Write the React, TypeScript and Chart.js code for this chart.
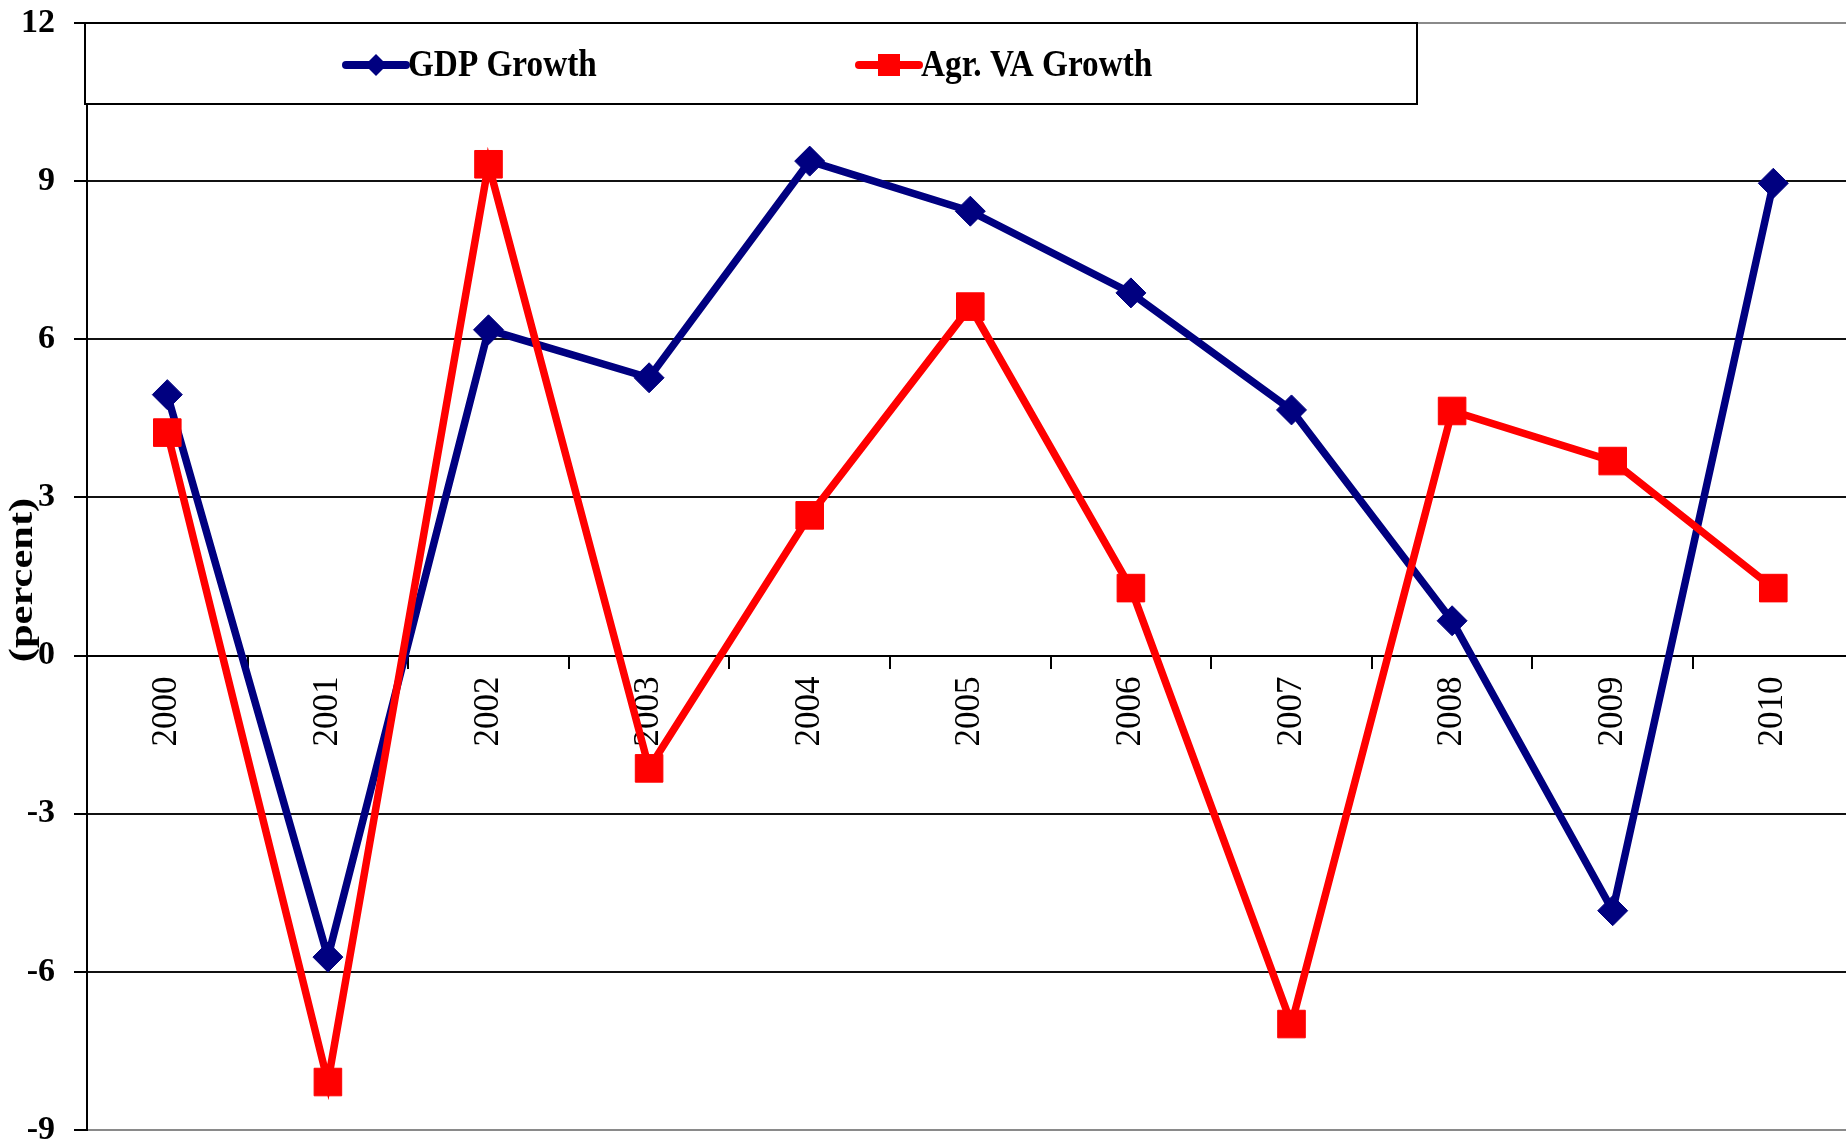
import React, { useEffect, useRef } from 'react';
import { Chart, registerables } from 'chart.js';

Chart.register(...registerables);

const years = ['2000', '2001', '2002', '2003', '2004', '2005', '2006', '2007', '2008', '2009', '2010'];
const gdpGrowth = [4.95, -5.72, 6.18, 5.27, 9.38, 8.43, 6.88, 4.66, 0.66, -4.84, 8.96];
const agrVaGrowth = [4.23, -8.09, 9.32, -2.14, 2.66, 6.62, 1.28, -6.99, 4.64, 3.69, 1.28];
const seriesLabels = ['GDP Growth', 'Agr. VA Growth'];
const yTitle = '(percent)';
const yMin = -9;
const yMax = 12;
const yStep = 3;

const W = 1900;
const H = 1170;
const FONT = '"Liberation Serif", "Times New Roman", serif';

const boxLegend = {
  id: 'boxLegend',
  afterDraw(chart: any) {
    const ctx = chart.ctx as CanvasRenderingContext2D;
    const area = chart.chartArea;
    const left = area.left - 2;
    const top = area.top;
    const right = 1417;
    const bottom = 104;
    ctx.save();
    ctx.fillStyle = '#fff';
    ctx.fillRect(left, top, right - left, bottom - top);
    ctx.strokeStyle = '#000';
    ctx.lineWidth = 2;
    ctx.strokeRect(left, top, right - left, bottom - top);
    const starts = [346, 859];
    chart.data.datasets.forEach((ds: any, i: number) => {
      const x0 = starts[i];
      const y = 65;
      ctx.strokeStyle = ds.borderColor;
      ctx.lineWidth = 8;
      ctx.lineCap = 'round';
      ctx.beginPath();
      ctx.moveTo(x0, y);
      ctx.lineTo(x0 + 60, y);
      ctx.stroke();
      ctx.fillStyle = ds.pointBackgroundColor;
      const cx = x0 + 30;
      ctx.beginPath();
      if (ds.pointStyle === 'rectRot') {
        const r = 11;
        ctx.moveTo(cx - r, y);
        ctx.lineTo(cx, y - r);
        ctx.lineTo(cx + r, y);
        ctx.lineTo(cx, y + r);
        ctx.closePath();
      } else {
        const h = 11;
        ctx.rect(cx - h, y - h, 2 * h, 2 * h);
      }
      ctx.fill();
      ctx.save();
      ctx.translate(x0 + 62, 76);
      ctx.scale(0.875, 1);
      ctx.font = `bold 38px ${FONT}`;
      ctx.fillStyle = '#000';
      ctx.textBaseline = 'alphabetic';
      ctx.textAlign = 'left';
      ctx.fillText(ds.label, 0, 0);
      ctx.restore();
    });
    ctx.restore();
  },
};

const yTitlePlugin = {
  id: 'yTitlePlugin',
  afterDraw(chart: any) {
    const ctx = chart.ctx as CanvasRenderingContext2D;
    ctx.save();
    ctx.translate(23, 580);
    ctx.rotate(-Math.PI / 2);
    ctx.scale(1.25, 1);
    ctx.font = `bold 34px ${FONT}`;
    ctx.fillStyle = '#000';
    ctx.textAlign = 'center';
    ctx.textBaseline = 'middle';
    ctx.fillText(yTitle, 0, 0);
    ctx.restore();
  },
};

export default function App() {
  const ref = useRef<HTMLCanvasElement | null>(null);

  useEffect(() => {
    if (!ref.current) return;
    const chart = new Chart(ref.current, {
      type: 'line',
      data: {
        labels: years,
        datasets: [
          {
            label: seriesLabels[0],
            data: gdpGrowth,
            borderColor: '#000080',
            backgroundColor: '#000080',
            pointBackgroundColor: '#000080',
            pointBorderColor: '#000080',
            pointStyle: 'rectRot',
            pointRadius: 15,
            pointBorderWidth: 1,
            borderWidth: 7.5,
            tension: 0,
            order: 1,
          },
          {
            label: seriesLabels[1],
            data: agrVaGrowth,
            borderColor: '#FF0000',
            backgroundColor: '#FF0000',
            pointBackgroundColor: '#FF0000',
            pointBorderColor: '#FF0000',
            pointStyle: 'rect',
            pointRadius: 19.5,
            pointBorderWidth: 1,
            borderWidth: 7.5,
            tension: 0,
            order: 0,
          },
        ],
      },
      options: {
        responsive: false,
        animation: false,
        layout: {
          padding: { left: 0, top: 23, right: W - 1853.6, bottom: H - 1130 },
        },
        plugins: {
          legend: { display: false },
          tooltip: { enabled: false },
          title: { display: false },
        },
        scales: {
          x: {
            type: 'category',
            position: { y: 0 } as any,
            offset: true,
            grid: {
              display: true,
              drawOnChartArea: false,
              drawTicks: true,
              tickLength: 12,
              offset: true,
              color: '#000',
              lineWidth: 2,
            },
            border: { display: true, color: '#000', width: 2 },
            ticks: {
              autoSkip: false,
              minRotation: 90,
              maxRotation: 90,
              padding: 9,
              color: '#000',
              font: { family: FONT, size: 35 },
            },
            afterFit: (s: any) => {
              s.paddingTop = 0;
              s.paddingBottom = 0;
            },
          },
          y: {
            min: yMin,
            max: yMax,
            ticks: {
              stepSize: yStep,
              padding: 19,
              color: '#000',
              font: { family: FONT, size: 34, weight: 'bold' },
            },
            grid: {
              color: (c: any) =>
                c.tick && (c.tick.value === yMax || c.tick.value === yMin) ? '#8a8a8a' : '#111',
              tickColor: '#000',
              lineWidth: 2,
              tickLength: 13,
            },
            border: { display: true, color: '#000', width: 2 },
            afterFit: (s: any) => {
              s.width = 87;
              s.paddingTop = 0;
              s.paddingBottom = 0;
            },
          },
        },
      },
      plugins: [boxLegend, yTitlePlugin],
    } as any);
    return () => chart.destroy();
  }, []);

  return (
    <div
      style={{
        position: 'fixed',
        left: 0,
        top: 0,
        width: 1846,
        height: 1139,
        overflow: 'hidden',
        background: '#fff',
      }}
    >
      <canvas ref={ref} width={W} height={H} style={{ display: 'block', width: W, height: H }} />
    </div>
  );
}
